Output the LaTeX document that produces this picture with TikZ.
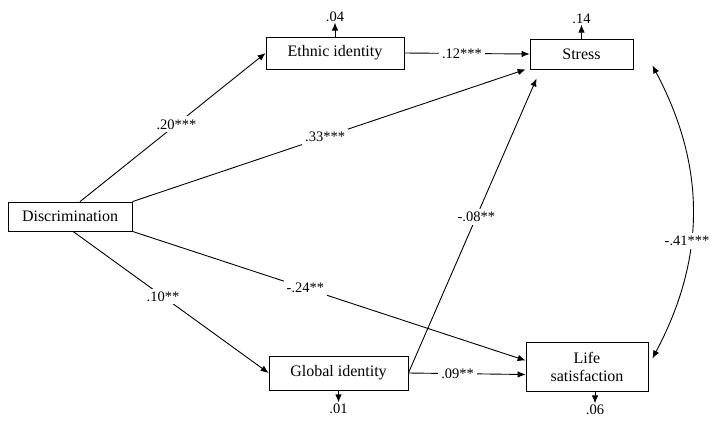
\documentclass[tikz,border=0pt]{standalone}
\usepackage{fontspec}
\setmainfont{Liberation Serif}
\usetikzlibrary{arrows.meta,positioning}

\begin{document}
\begin{tikzpicture}[
    x=1pt, y=-1pt,
    box/.style={rectangle, draw, line width=0.8pt, align=center, inner sep=2pt, font=\fontsize{16}{18}\selectfont},
    arrow/.style={-{Latex[length=8pt,width=6.5pt]}, line width=0.9pt},
    coef/.style={fill=white, inner sep=3pt, font=\fontsize{14.5}{16}\selectfont},
    resid/.style={inner sep=1pt, font=\fontsize{14.5}{16}\selectfont}
]
\useasboundingbox (0,0) rectangle (710,424);

% Boxes
\node[box, minimum width=124pt, minimum height=29pt] (disc) at (70,216.5) {Discrimination};
\node[box, minimum width=138pt, minimum height=32pt] (ethnic) at (335,53) {Ethnic identity};
\node[box, minimum width=103pt, minimum height=30pt] (stress) at (581.5,54) {Stress};
\node[box, minimum width=139pt, minimum height=34pt] (global) at (338.5,373) {Global identity};
\node[box, minimum width=122pt, minimum height=49pt] (life) at (587,366.5) {Life\\satisfaction};

% Residuals
\node[resid, above=14pt of ethnic.north] (res_ethnic) {.04};
\node[resid, above=14pt of stress.north] (res_stress) {.14};
\node[resid, below=12pt of global.south] (res_global) {.01};
\node[resid, below=12pt of life.south, xshift=8pt] (res_life) {.06};

\draw[arrow] (ethnic.north) -- (res_ethnic);
\draw[arrow] (stress.north) -- (res_stress);
\draw[arrow] (global.south) -- (res_global);
\draw[arrow] ([xshift=8pt]life.south) -- (res_life);

% Paths
\draw[arrow] ([xshift=10pt]disc.north) -- node[coef, pos=0.52] {.20***} (ethnic.west);
\draw[arrow] (disc.north east) -- node[coef, pos=0.49] {.33***} ([xshift=-4pt]stress.south west);
\draw[arrow] (ethnic.east) -- node[coef, pos=0.46] {.12***} (stress.west);
\draw[arrow] ([xshift=3pt]disc.south) -- node[coef, pos=0.46] {.10**} (global.west);
\draw[arrow] (disc.south east) -- node[coef, pos=0.44] {-.24**} ([yshift=6pt]life.west);
\draw[arrow] (global.east) -- node[coef, pos=0.53] {-.08**} ([xshift=7pt,yshift=-9pt]stress.south west);
\draw[arrow] (global.east) -- node[coef, pos=0.42] {.09**} ([yshift=-8pt]life.west);

% Correlation
\draw[arrow, {Latex[length=8pt,width=6.5pt]}-{Latex[length=8pt,width=6.5pt]}]
    ([xshift=19pt,yshift=4pt]stress.south east) to[bend left=28]
    node[coef, pos=0.6, xshift=-4pt] {-.41***} ([xshift=4pt,yshift=8pt]life.east);

\end{tikzpicture}
\end{document}
